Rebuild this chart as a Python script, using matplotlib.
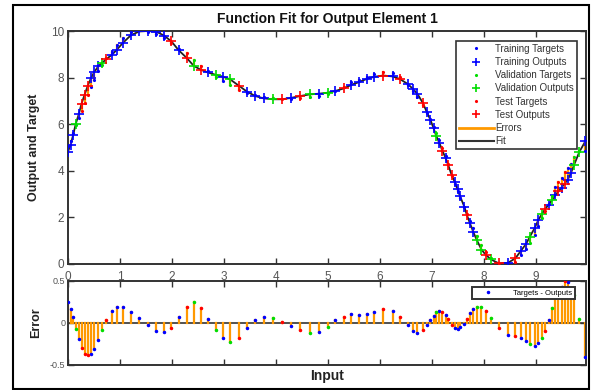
import numpy as np
import matplotlib
matplotlib.use('Agg')
import matplotlib.pyplot as plt
from matplotlib.patches import Rectangle
from matplotlib.lines import Line2D

plt.rcParams['font.family'] = ['Liberation Sans', 'DejaVu Sans']

# input samples, network outputs, errors (target - output), data split
x_in = [0.00, 0.05, 0.10, 0.15, 0.21, 0.26, 0.32, 0.38, 0.44, 0.50,
        0.58, 0.66, 0.74, 0.84, 0.94, 1.06, 1.21, 1.37, 1.54, 1.70,
        1.85, 1.99, 2.13, 2.28, 2.42, 2.56, 2.69, 2.84, 2.98, 3.12,
        3.28, 3.44, 3.60, 3.76, 3.94, 4.12, 4.29, 4.47, 4.65, 4.83,
        4.99, 5.13, 5.31, 5.45, 5.60, 5.74, 5.88, 6.06, 6.24, 6.38,
        6.53, 6.63, 6.72, 6.82, 6.90, 6.97, 7.03, 7.08, 7.14, 7.20,
        7.26, 7.31, 7.38, 7.44, 7.49, 7.54, 7.62, 7.67, 7.73, 7.79,
        7.86, 7.95, 8.03, 8.13, 8.28, 8.46, 8.60, 8.71, 8.81, 8.88,
        8.97, 9.04, 9.11, 9.18, 9.24, 9.31, 9.37, 9.43, 9.49, 9.55,
        9.61, 9.67, 9.73, 9.83, 9.95]
outputs = [4.82, 5.12, 5.55, 6.02, 6.45, 6.88, 7.27, 7.65, 7.97, 8.22,
           8.48, 8.64, 8.80, 8.97, 9.20, 9.50, 9.82, 9.98, 10.0, 9.97,
           9.80, 9.55, 9.17, 8.85, 8.50, 8.33, 8.22, 8.12, 8.04, 7.92,
           7.66, 7.40, 7.21, 7.11, 7.07, 7.07, 7.13, 7.21, 7.28, 7.31,
           7.35, 7.42, 7.54, 7.69, 7.81, 7.94, 8.03, 8.09, 8.05, 7.94,
           7.73, 7.52, 7.30, 6.92, 6.52, 6.18, 5.82, 5.50, 5.20, 4.86,
           4.55, 4.25, 3.80, 3.50, 3.20, 2.90, 2.46, 2.10, 1.74, 1.39,
           1.03, 0.62, 0.40, 0.20, 0.03, 0.05, 0.24, 0.57, 0.87, 1.17,
           1.53, 1.87, 2.15, 2.37, 2.55, 2.75, 2.95, 3.12, 3.28, 3.45,
           3.62, 3.90, 4.25, 4.80, 5.28]
errors = [0.24, 0.16, 0.06, -0.075, -0.20, -0.30, -0.37, -0.39, -0.38, -0.31,
          -0.21, -0.095, 0.03, 0.135, 0.19, 0.18, 0.13, 0.055, -0.025, -0.10,
          -0.115, -0.065, 0.065, 0.19, 0.24, 0.17, 0.045, -0.09, -0.19, -0.23,
          -0.18, -0.07, 0.025, 0.065, 0.05, 0.01, -0.045, -0.095, -0.12, -0.11,
          -0.05, 0.025, 0.07, 0.10, 0.09, 0.10, 0.125, 0.16, 0.14, 0.065,
          -0.03, -0.10, -0.12, -0.09, -0.035, 0.025, 0.08, 0.12, 0.135, 0.12,
          0.09, 0.04, -0.03, -0.065, -0.075, -0.055, -0.02, 0.045, 0.11, 0.16,
          0.19, 0.185, 0.135, 0.05, -0.065, -0.15, -0.165, -0.18, -0.22, -0.26,
          -0.28, -0.245, -0.19, -0.10, 0.03, 0.17, 0.35, 0.40, 0.42, 0.49,
          0.48, 0.40, 0.33, 0.04, -0.41]
split = list("bbbgbrrrbbbgrbbbbbbbbrbrgrbgbgrbbbgrbrgbgbrbbbbrbrbbbrbbbgbrbrrbbbbrbbggrgrbrbbgbbgrbgbrbrbbggb")

x_in = np.array(x_in)
outputs = np.array(outputs)
errors = np.array(errors)
split = np.array(split)
targets = outputs + errors

colors = {'b': 'blue', 'g': '#00dd00', 'r': 'red'}
orange = '#ff9900'
axcol = '#333333'
labcol = '#555555'

fig = plt.figure(figsize=(5.92, 3.90), dpi=100)
W, H = 592, 390

def px_axes(l, t, r, b):
    return [l / W, 1 - b / H, (r - l) / W, (b - t) / H]

ax2 = fig.add_axes(px_axes(68, 280.5, 586, 364.5))
ax1 = fig.add_axes(px_axes(68, 31, 586, 264))

# ---- top: outputs vs targets ----
ax1.plot(x_in, outputs, color='#222222', lw=1.3, zorder=1)
for xi, o, t in zip(x_in, outputs, targets):
    ax1.plot([xi, xi], [o, t], color=orange, lw=1.6, zorder=2)
for k in ['b', 'g', 'r']:
    m = split == k
    ax1.plot(x_in[m], targets[m], '.', color=colors[k], ms=2.5, zorder=3)
    ax1.plot(x_in[m], outputs[m], '+', color=colors[k], ms=6.5, mew=1.2, zorder=3)

ax1.set_xlim(0, 9.96)
ax1.set_ylim(0, 10)
ax1.set_yticks([0, 2, 4, 6, 8, 10])
ax1.set_xticks(range(10))
ax1.tick_params(direction='in', top=True, right=True, length=4, width=1,
                color=axcol, labelcolor=labcol, labelsize=8.5)
ax1.tick_params(axis='x', pad=5)
ax1.tick_params(axis='y', pad=3)
for s in ax1.spines.values():
    s.set_color(axcol)
    s.set_linewidth(1.4)
ax1.set_ylabel('Output and Target', fontsize=9, fontweight='bold', color='#222222')
ax1.yaxis.set_label_coords(-0.054, 0.5)

handles = [
    Line2D([], [], ls='none', marker='.', ms=2.5, color='blue'),
    Line2D([], [], ls='none', marker='+', ms=6, mew=1.2, color='blue'),
    Line2D([], [], ls='none', marker='.', ms=2.5, color='#00dd00'),
    Line2D([], [], ls='none', marker='+', ms=6, mew=1.2, color='#00dd00'),
    Line2D([], [], ls='none', marker='.', ms=2.5, color='red'),
    Line2D([], [], ls='none', marker='+', ms=6, mew=1.2, color='red'),
    Line2D([], [], color=orange, lw=2),
    Line2D([], [], color='#333333', lw=1.5),
]
leg_labels = ['Training Targets', 'Training Outputs', 'Validation Targets',
              'Validation Outputs', 'Test Targets', 'Test Outputs', 'Errors', 'Fit']
leg = ax1.legend(handles, leg_labels, loc='upper right', bbox_to_anchor=(0.982, 0.958),
                 borderaxespad=0, fontsize=7, labelspacing=0.33, handlelength=3.6,
                 handletextpad=0.15, borderpad=0.3, fancybox=False, framealpha=1)
leg.get_frame().set_edgecolor('#333333')
leg.get_frame().set_linewidth(1.2)
for t in leg.get_texts():
    t.set_color('#333333')

# ---- bottom: errors ----
ax2.axhline(0, color='#333333', lw=1.2, zorder=1)
for xi, e in zip(x_in, errors):
    ax2.plot([xi, xi], [0, e], color=orange, lw=1.6, zorder=2)
for k in ['b', 'g', 'r']:
    m = split == k
    ax2.plot(x_in[m], errors[m], '.', color=colors[k], ms=3, zorder=3)
ax2.set_xlim(0, 9.96)
ax2.set_ylim(-0.5, 0.5)
ax2.set_yticks([-0.5, 0, 0.5])
ax2.set_yticklabels(['-0.5', '0', '0.5'])
ax2.set_xticks(range(10))
ax2.tick_params(direction='in', top=True, right=True, length=4, width=1,
                color=axcol, labelcolor=labcol, labelsize=6.5, pad=2)
ax2.tick_params(axis='x', labelbottom=False)
for s in ax2.spines.values():
    s.set_color(axcol)
    s.set_linewidth(1.4)
ax2.set_ylabel('Error', fontsize=9, fontweight='bold', color='#222222')
ax2.yaxis.set_label_coords(-0.050, 0.5)
ax2.set_xlabel('Input', fontsize=10, fontweight='bold', color='#222222', va='center')
ax2.xaxis.set_label_coords(0.5, -0.137)

leg2 = ax2.legend([Line2D([], [], ls='none', marker='.', ms=3, color='blue')],
                  ['Targets - Outputs'], loc='upper right', bbox_to_anchor=(0.979, 0.926),
                  borderaxespad=0, fontsize=5.5, handlelength=3.6, handletextpad=1.5,
                  borderpad=0.35, fancybox=False, framealpha=1)
leg2.get_frame().set_edgecolor('#333333')
leg2.get_frame().set_linewidth(1.4)

fig.text(327 / W, 1 - 19 / H, 'Function Fit for Output Element 1', ha='center',
         va='center', fontsize=10, fontweight='bold', color='#111111')

fig.patches.append(Rectangle((13 / W, 1 - 389 / H), 576 / W, 384 / H, fill=False,
                             lw=1.5, ec='black', transform=fig.transFigure))

fig.savefig('out.png', dpi=100)
